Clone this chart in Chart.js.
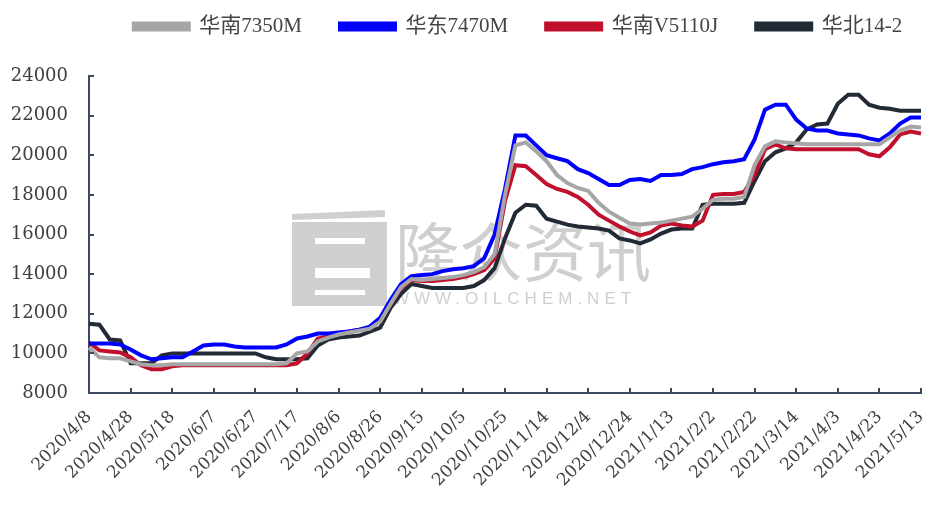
<!DOCTYPE html>
<html>
<head>
<meta charset="utf-8">
<script src="https://cdn.jsdelivr.net/npm/chart.js@4/dist/chart.umd.min.js"></script>
<style>
  html, body { margin: 0; padding: 0; background: #fff; }
  #wrap { width: 928px; height: 507px; }
</style>
</head>
<body>
<div id="wrap"><canvas id="myChart"></canvas></div>
<script>
// 5-day steps from 2020/4/8 to 2021/5/13
const startDate = [2020, 4, 8]
const stepDays = 5
const tickEvery = 4

const seriesNames = ['华南7350M', '华东7470M', '华南V5110J', '华北14-2']
const seriesColors = ['#a6a6a6', '#0000ff', '#c0102c', '#222a35']

const south7350 = [10300, 9800, 9750, 9750, 9600, 9450, 9400, 9400, 9450, 9450,
  9450, 9450, 9450, 9450, 9450, 9450, 9450, 9450, 9450, 9500,
  10000, 10100, 10600, 10800, 10950, 11050, 11150, 11250, 11600, 12500,
  13350, 13750, 13700, 13750, 13800, 13850, 13950, 14100, 14350, 15000,
  18000, 20500, 20650, 20200, 19700, 19000, 18600, 18350, 18200, 17600,
  17150, 16850, 16550, 16500, 16550, 16600, 16700, 16800, 16900, 17300,
  17750, 17800, 17800, 17900, 19500, 20450, 20700, 20650, 20600, 20550,
  20550, 20550, 20550, 20550, 20550, 20550, 20550, 20900, 21250, 21450,
  21400]
const east7470 = [10500, 10500, 10500, 10450, 10200, 9900, 9700, 9750, 9800, 9800,
  10100, 10400, 10450, 10450, 10350, 10300, 10300, 10300, 10300, 10450,
  10750, 10850, 11000, 11000, 11050, 11100, 11200, 11350, 11800, 12700,
  13500, 13900, 13950, 14000, 14150, 14250, 14300, 14400, 14800, 16000,
  18300, 21000, 21000, 20500, 20000, 19850, 19700, 19300, 19100, 18800,
  18500, 18500, 18750, 18800, 18700, 19000, 19000, 19050, 19300, 19400,
  19550, 19650, 19700, 19800, 20800, 22300, 22550, 22550, 21800, 21350,
  21250, 21250, 21100, 21050, 21000, 20850, 20750, 21100, 21600, 21900,
  21900]
const southV5110 = [10550, 10150, 10100, 10050, 9800, 9400, 9200, 9200, 9350, 9400,
  9400, 9400, 9400, 9400, 9400, 9400, 9400, 9400, 9400, 9400,
  9500, 10000, 10750, 10850, 11000, 11100, 11200, 11300, 11650, 12500,
  13300, 13700, 13650, 13650, 13700, 13750, 13850, 14000, 14200, 14800,
  17700, 19500, 19450, 19000, 18550, 18300, 18150, 17900, 17500, 17000,
  16700, 16400, 16150, 15950, 16100, 16450, 16550, 16450, 16400, 16700,
  18000, 18050, 18050, 18150, 19000, 20300, 20550, 20350, 20300, 20300,
  20300, 20300, 20300, 20300, 20300, 20050, 19950, 20400, 21050, 21200,
  21100]
const north142 = [11500, 11450, 10700, 10650, 9500, 9500, 9500, 9900, 10000, 10000,
  10000, 10000, 10000, 10000, 10000, 10000, 10000, 9800, 9700, 9700,
  9700, 9750, 10400, 10700, 10800, 10850, 10900, 11100, 11300, 12300,
  13000, 13500, 13400, 13300, 13300, 13300, 13300, 13400, 13700, 14300,
  15800, 17100, 17500, 17450, 16800, 16650, 16500, 16400, 16350, 16300,
  16200, 15800, 15700, 15550, 15750, 16050, 16250, 16300, 16300, 17500,
  17550, 17550, 17550, 17600, 18700, 19700, 20150, 20350, 20650, 21300,
  21550, 21600, 22600, 23050, 23050, 22550, 22400, 22350, 22250, 22250,
  22250]

const yMin = 8000
const yMax = 24000
const yStep = 2000

const labels = []
const d0 = new Date(startDate[0], startDate[1] - 1, startDate[2])
for (let i = 0; i < south7350.length; i++) {
  const d = new Date(d0.getTime())
  d.setDate(d.getDate() + i * stepDays)
  labels.push(d.getFullYear() + '/' + (d.getMonth() + 1) + '/' + d.getDate())
}

const serif = "'DejaVu Serif', 'Noto Sans CJK SC', serif"
const legendFont = "'Liberation Serif', 'Noto Sans CJK SC', serif"
const axisColor = '#3b4a61'

// legend sits higher than chart.js puts it, with more room below
const legendShift = {
  id: 'legendShift',
  beforeLayout(chart) {
    const lg = chart.legend
    if (!lg || lg._shifted) return
    lg._shifted = true
    const fit = lg.fit
    lg.fit = function () { fit.call(this); this.height += 7 }
    const draw = lg.draw
    lg.draw = function () {
      const c = this.ctx
      c.save()
      c.translate(54, -22)
      draw.call(this)
      c.restore()
    }
  }
}

// small inside tick marks like the original
const insideTicks = {
  id: 'insideTicks',
  afterDraw(chart) {
    const { ctx, scales: { x, y } } = chart
    ctx.save()
    ctx.strokeStyle = axisColor
    ctx.lineWidth = 2
    ctx.beginPath()
    for (let i = 0; i < labels.length; i += tickEvery) {
      const px = Math.round(x.getPixelForValue(i))
      ctx.moveTo(px, y.bottom)
      ctx.lineTo(px, y.bottom - 5)
    }
    for (let v = yMin; v <= yMax; v += yStep) {
      const py = Math.round(y.getPixelForValue(v))
      ctx.moveTo(x.left, py)
      ctx.lineTo(x.left + 5, py)
    }
    ctx.stroke()
    ctx.restore()
  }
}

// faint watermark behind the lines
const watermark = {
  id: 'watermark',
  beforeDatasetsDraw(chart) {
    const { ctx } = chart
    ctx.save()
    ctx.fillStyle = '#cfcfcf'
    ctx.fillRect(292, 222, 95, 84)
    ctx.beginPath()
    ctx.moveTo(292, 214)
    ctx.lineTo(385, 210)
    ctx.lineTo(385, 217)
    ctx.lineTo(292, 220)
    ctx.fill()
    ctx.fillStyle = '#fff'
    ctx.fillRect(315, 238, 50, 6)
    ctx.fillRect(315, 268, 55, 10)
    ctx.fillRect(315, 290, 50, 5)
    ctx.fillStyle = '#cfcfcf'
    ctx.font = "64px 'Noto Sans CJK SC'"
    ctx.textBaseline = 'alphabetic'
    ctx.fillText('隆众资讯', 395, 276)
    ctx.font = "17px 'Liberation Sans'"
    ctx.letterSpacing = '5px'
    ctx.fillText('WWW.OILCHEM.NET', 393, 304)
    ctx.restore()
  }
}

const ctx = document.getElementById('myChart')

new Chart(ctx, {
  type: 'line',
  data: {
    labels: labels,
    datasets: [south7350, east7470, southV5110, north142].map((vals, i) => ({
      label: seriesNames[i],
      data: vals,
      borderColor: seriesColors[i],
      backgroundColor: seriesColors[i],
      borderWidth: 4,
      pointRadius: 0,
      tension: 0
    }))
  },
  options: {
    responsive: true,
    maintainAspectRatio: false,
    animation: false,
    layout: { padding: { left: 0, right: 0, top: 0, bottom: 0 } },
    plugins: {
      legend: {
        position: 'top',
        labels: {
          boxWidth: 55,
          boxHeight: 6,
          padding: 38,
          color: '#444',
          font: { family: legendFont, size: 21 }
        }
      },
      tooltip: { enabled: false }
    },
    scales: {
      x: {
        grid: { display: false },
        border: { color: axisColor, width: 2 },
        ticks: {
          autoSkip: false,
          minRotation: 45,
          maxRotation: 45,
          padding: 6,
          color: '#404040',
          font: { family: serif, size: 17 },
          callback: (v, i) => (i % tickEvery === 0 ? labels[i] : '')
        },
        afterFit: (s) => { s.height = 114; s.paddingRight = 7 }
      },
      y: {
        min: yMin,
        max: yMax,
        grid: { display: false },
        border: { color: axisColor, width: 2 },
        ticks: {
          stepSize: yStep,
          padding: 13,
          color: '#404040',
          font: { family: serif, size: 18 },
          callback: (v) => String(v)
        },
        afterFit: (s) => { s.width = 89 }
      }
    }
  },
  plugins: [legendShift, watermark, insideTicks]
})
</script>
</body>
</html>
